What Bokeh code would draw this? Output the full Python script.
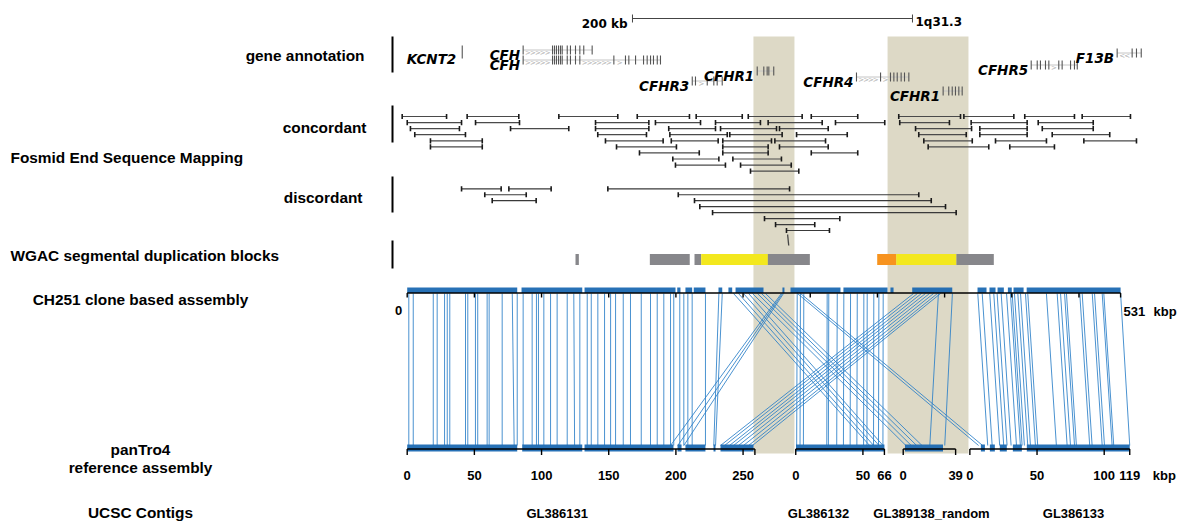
from bokeh.plotting import figure
from bokeh.models import Range1d
from bokeh.embed import file_html
from bokeh.resources import INLINE
from bokeh.core.properties import value

# ======================= DATA =======================
# --- human (hg) window, kb from the left edge of the displayed region ---
scale_bar_kb = [165.7, 365.7]
scale_bar_text = "200 kb"
cytoband_text = "1q31.3"

# duplicated regions highlighted (hg kb)
band_start = [252.1, 347.9]
band_end = [281.4, 405.7]

gene_names = ["KCNT2", "CFH", "CFH", "CFHR3", "CFHR1", "CFHR4", "CFHR1", "CFHR5", "F13B"]
gene_strand = ["-", "+", "+", "+", "+", "+", "+", "+", "-"]
gene_start = [44.1, 87.6, 87.6, 208.4, 254.8, 325.7, 387.6, 450.5, 511.9]
gene_end = [44.1, 136.9, 185.7, 229.8, 266.6, 363.1, 401.2, 483.4, 529.1]
gene_exons = [
    [44.1],
    [87.6, 108.6, 110.0, 111.4, 112.9, 114.3, 115.5, 119.1, 121.4, 125.0, 128.1, 130.9, 136.9],
    [87.6, 108.6, 110.0, 111.4, 112.9, 114.3, 115.5, 119.1, 121.4, 125.0, 128.1, 152.4, 160.7,
     163.1, 167.9, 173.6, 176.2, 178.6, 180.7, 183.4, 185.7],
    [208.4, 210.7, 219.1, 223.8, 226.2, 229.8],
    [254.8, 259.5, 261.9, 263.1, 266.6],
    [325.7, 342.9, 350.0, 352.4, 354.8, 357.6, 360.0, 363.1],
    [387.6, 391.6, 394.1, 396.4, 398.8, 401.2],
    [450.5, 454.8, 457.1, 460.7, 463.1, 470.2, 472.6, 478.6, 481.4, 483.4],
    [511.9, 522.6, 525.7, 529.1],
]

# fosmid end-sequence pairs (hg kb) and their stacking row
conc_start = [1.2, 47.6, 113.1, 169.1, 211.2, 248.4, 293.4, 355.9, 402.4, 445.9, 486.9,
              4.8, 53.6, 139.3, 182.1, 225.0, 262.6, 310.7, 356.6, 407.6, 455.5,
              7.1, 78.6, 139.3, 191.6, 228.6, 270.7, 367.9, 413.8, 458.4,
              10.2, 140.9, 192.4, 235.2, 282.9, 370.2, 413.8, 465.5,
              21.4, 146.4, 193.4, 230.2, 267.4, 373.8, 425.0, 488.1,
              21.4, 154.3, 230.2, 270.7, 376.9, 435.2,
              170.7, 230.2, 293.4,
              194.5, 237.4,
              196.4, 242.9,
              250.0]
conc_end = [32.9, 84.5, 155.2, 206.4, 244.1, 286.9, 326.6, 400.0, 438.1, 481.4, 521.4,
            43.6, 85.0, 177.4, 214.3, 257.1, 301.2, 345.9, 392.1, 447.6, 494.8,
            42.1, 120.2, 177.4, 225.0, 268.6, 305.5, 407.9, 447.6, 494.8,
            46.4, 175.7, 233.4, 272.6, 319.1, 404.1, 447.6, 506.6,
            58.4, 187.6, 226.9, 265.0, 303.6, 408.4, 461.4, 525.7,
            58.4, 197.1, 262.6, 305.5, 420.2, 467.1,
            213.4, 262.6, 326.6,
            227.4, 272.1,
            232.1, 279.1,
            284.5]
conc_row = [0] * 11 + [1] * 10 + [2] * 9 + [3] * 8 + [4] * 8 + [5] * 6 + [6] * 3 + [7] * 2 + [8] * 2 + [9]

disc_start = [43.6, 77.4, 148.1, 60.2, 198.4, 65.5, 210.0, 213.8, 222.9, 260.0, 267.9, 275.7]
disc_end = [71.9, 107.6, 277.9, 89.8, 370.2, 96.9, 379.1, 389.3, 396.9, 313.8, 295.9, 306.4]
disc_row = [0, 0, 0, 1, 1, 2, 2, 3, 4, 5, 6, 7]
disc_lone_end = [276.5]

# WGAC segmental duplications (hg kb) and identity class
wgac_start = [125.0, 178.1, 210.0, 214.8, 262.4, 340.5, 354.1, 397.1]
wgac_end = [127.4, 206.6, 214.8, 262.4, 292.4, 354.1, 397.1, 423.8]
wgac_class = ["90-98%", "90-98%", "90-98%", "98-99%", "90-98%", ">99%", "98-99%", "90-98%"]

# --- CH251 clone based assembly (kbp) vs panTro4 contigs (kbp) ---
ch251_length = 531
ch251_ticks = [0, 50, 100, 150, 200, 250, 300, 350, 400, 450, 500, 531]

contig_names = ["GL386131", "GL386132", "GL389138_random", "GL386133"]
contig_length = [258.8, 66, 39, 119]
contig_tick_labels = [[0, 50, 100, 150, 200, 250], [0, 50, 66], [0, 39], [0, 50, 100, 119]]

# aligned blocks on CH251
ch_block_start = [0, 85.1, 132.0, 201.0, 207.1, 213.3, 231.7, 239.1, 244.4, 279.3, 285.3, 324.7,
                  359.7, 375.9, 424.5, 433.4, 439.4, 447.1, 451.3, 461.1]
ch_block_end = [81.9, 130.3, 199.7, 203.4, 212.1, 222.0, 234.5, 241.9, 265.2, 280.8, 322.5, 357.5,
                362.0, 405.7, 431.2, 437.9, 444.1, 450.0, 458.8, 531.0]
# aligned blocks on panTro4 contigs
ref_block_contig = [0, 0, 0, 0, 0, 0, 0, 1, 2, 3, 3, 3, 3, 3]
ref_block_start = [0, 85.6, 132.0, 201.2, 207.1, 228.0, 233.2, 0.2, 1.3, 8.2, 14.9, 22.3, 32.0, 42.4]
ref_block_end = [81.9, 130.3, 198.2, 204.2, 222.0, 229.5, 257.8, 66.0, 29.6, 11.2, 18.6, 27.5, 38.7, 119.0]

# alignment links: CH251 position -> (contig, contig position)
aln_top = [1.2, 4.5, 19.4, 22.3, 27.8, 29.8, 31.7, 43.4, 45.1, 50.8, 52.5, 59.5, 61.0, 70.7, 78.2,
           81.9, 86.3, 93.0, 96.2, 97.7, 101.7, 106.7, 111.6, 119.1, 124.0, 128.5, 134.0, 137.0,
           141.9, 146.9, 151.4, 155.1, 160.8, 166.2, 174.2, 181.1, 186.1, 191.0, 196.0, 198.4,
           202.9, 205.9, 208.9, 212.1, 222.0, 232.0, 234.5,
           278.5, 279.3, 280.1,
           376.9, 379.8, 382.8, 385.8, 388.8, 391.8, 394.7, 397.0,
           242.9, 246.6, 250.3, 254.1,
           257.0, 260.7, 263.7, 266.7,
           290.3, 292.7, 295.2, 312.6, 313.8, 320.1, 325.0, 330.0, 335.0, 339.9, 342.4, 347.3, 351.1, 354.3,
           290.5, 292.8,
           395.4, 405.8,
           424.7, 428.0, 433.6, 436.6, 439.1, 442.1, 446.1, 449.0, 450.3, 452.0, 454.5, 456.5, 460.2,
           461.9, 475.8, 483.8, 486.3, 489.3, 490.7, 500.6, 502.4, 509.9, 511.6, 517.3, 518.5, 531.0]
aln_contig = [0] * 47 + [0] * 3 + [0] * 8 + [1] * 4 + [2] * 4 + [1] * 14 + [3] * 2 + [2] * 2 + [3] * 26
aln_ref = [1.2, 4.5, 19.4, 22.3, 27.8, 29.8, 31.7, 43.4, 45.1, 50.8, 52.5, 59.5, 61.0, 70.7, 79.6,
           81.9, 86.3, 93.0, 96.2, 97.7, 101.7, 106.7, 111.6, 119.1, 124.6, 128.5, 134.0, 137.0,
           141.9, 146.9, 151.4, 155.1, 160.8, 166.2, 174.2, 181.1, 186.1, 191.0, 196.0, 198.4,
           202.9, 205.9, 208.9, 212.1, 222.0, 228.2, 229.5,
           196.0, 201.4, 205.9,
           233.2, 236.2, 239.9, 242.9, 246.6, 250.3, 254.1, 257.0,
           55.0, 58.0, 62.0, 65.0,
           2.0, 6.0, 10.0, 14.0,
           0.7, 3.2, 5.7, 23.1, 24.3, 30.5, 35.5, 40.5, 45.5, 50.5, 53.0, 57.9, 61.6, 64.9,
           6.5, 9.5,
           19.8, 30.9,
           13.3, 16.6, 22.2, 25.2, 27.7, 30.7, 34.7, 37.6, 38.9, 40.6, 43.1, 45.1, 48.8,
           50.5, 64.4, 72.4, 74.9, 77.9, 79.3, 89.2, 91.0, 98.5, 100.2, 105.9, 107.1, 119.0]

track_labels = ["gene annotation", "concordant", "Fosmid End Sequence Mapping", "discordant",
                "WGAC segmental duplication blocks", "CH251 clone based assembly",
                "panTro4", "reference assembly", "UCSC Contigs"]

# ======================= LAYOUT / STYLE =======================
W, H = 1180, 522
K = 1.3435          # px per kbp (assembly tracks)
X0 = 406.7          # px of CH251 / GL386131 origin
HGK = 1.4           # px per kb (human tracks)
HG0 = 400.0         # px of human window origin
CONTIG_OFFSET = [0.0, 289.2, 369.2, 418.8]   # placement of contigs along the shared axis (kbp)
CONTIG_NAME_PX = [556.7, 818.0, 931.0, 1073.0]
GENE_BASE_Y = [58, 54, 64, 85, 75, 81, 95, 69, 57]

FONT = "Liberation Sans"
GFONT = "DejaVu Sans"
BLUE = "#2a7fc8"
BLOCK = "#1b69b2"
BAND = "#ddd9c6"
WGAC_COLORS = {"90-98%": "#87878b", "98-99%": "#f3e81e", ">99%": "#f7931e"}

p = figure(width=W, height=H,
           x_range=Range1d((0 - X0) / K, (W - X0) / K),
           y_range=Range1d(H, 0),
           output_backend="svg", toolbar_location=None, min_border=0,
           x_axis_location=None, y_axis_location=None, title=None)
p.grid.visible = False
p.outline_line_color = None
p.background_fill_color = "white"
p.border_fill_color = "white"
p.extra_x_ranges = {"hg": Range1d((0 - HG0) / HGK, (W - HG0) / HGK),
                    "px": Range1d(0, W)}


def txt(x, y, s, size, align="left", font=FONT, style="bold", rng="default", color="black", dx=0):
    p.text(x=[x], y=[y], text=[s], x_range_name=rng, x_offset=dx,
           text_font=value(font), text_font_size=size, text_font_style=style,
           text_align=align, text_baseline="alphabetic", text_color=color)


# highlighted duplicated regions
p.quad(left=band_start, right=band_end, top=36, bottom=453, x_range_name="hg",
       fill_color=BAND, line_color=None)

# scale bar
p.segment(x0=[scale_bar_kb[0]], y0=[18], x1=[scale_bar_kb[1]], y1=[18], x_range_name="hg",
          line_color="#444444", line_width=1)
p.segment(x0=scale_bar_kb, y0=[14, 14], x1=scale_bar_kb, y1=[22, 22], x_range_name="hg",
          line_color="#444444", line_width=1)
txt(scale_bar_kb[0], 23, scale_bar_text, "12px", align="right", font=GFONT, rng="hg", dx=-5)
txt(scale_bar_kb[1], 21, cytoband_text, "12px", align="left", font=GFONT, rng="hg", dx=3)

# track separators
p.segment(x0=[392] * 4, y0=[36, 105, 176, 240], x1=[392] * 4, y1=[72, 142, 212, 268],
          x_range_name="px", line_color="black", line_width=2)

# left labels
LS = "15.4px"
txt(364, 55, track_labels[0], LS, align="right", rng="px")
txt(366, 127, track_labels[1], LS, align="right", rng="px")
txt(10, 157, track_labels[2], LS, align="left", rng="px")
txt(362, 197, track_labels[3], LS, align="right", rng="px")
txt(10, 255, track_labels[4], LS, align="left", rng="px")
txt(140, 299, track_labels[5], LS, align="center", rng="px")
txt(140, 449, track_labels[6], LS, align="center", rng="px")
txt(140, 467, track_labels[7], LS, align="center", rng="px")
txt(140, 512, track_labels[8], LS, align="center", rng="px")

# genes
chx, chy, cht = [], [], []
for name, strand, s, e, ex, gy in zip(gene_names, gene_strand, gene_start, gene_end, gene_exons, GENE_BASE_Y):
    mid = gy - 4.5
    if e > s:
        p.segment(x0=[s], y0=[mid], x1=[e], y1=[mid], x_range_name="hg",
                  line_color="#c4c4c4", line_width=1)
        pos = sorted(set([s] + ex + [e]))
        for a, b in zip(pos[:-1], pos[1:]):
            n = int((b - a) / 3.3)
            for i in range(1, n):
                chx.append(a + i * (b - a) / n)
                chy.append(mid + 3)
                cht.append(">" if strand == "+" else "<")
    h0 = gy - 9 if e > s else gy - 13
    p.segment(x0=ex, y0=[h0] * len(ex), x1=ex, y1=[gy] * len(ex), x_range_name="hg",
              line_color="#555555", line_width=1.1)
    txt(s, gy, name, "13.5px", align="right", font=GFONT, style="bold italic", rng="hg",
        dx=-6 if e == s else -3)
p.text(x=chx, y=chy, text=cht, x_range_name="hg", text_font=value(GFONT), text_font_size="7px",
       text_color="#b0b0b0", text_align="center", text_baseline="alphabetic")

# fosmids
cy = [116 + 6.07 * r for r in conc_row]
p.segment(x0=conc_start, y0=cy, x1=conc_end, y1=cy, x_range_name="hg",
          line_color="#4a4a4a", line_width=1.2)
p.segment(x0=conc_start + conc_end, y0=[y - 2.6 for y in cy] * 2,
          x1=conc_start + conc_end, y1=[y + 2.6 for y in cy] * 2, x_range_name="hg",
          line_color="#1a1a1a", line_width=1.6)
dy = [188.3 + 5.96 * r for r in disc_row]
p.segment(x0=disc_start, y0=dy, x1=disc_end, y1=dy, x_range_name="hg",
          line_color="#3a3a3a", line_width=1.2)
p.segment(x0=disc_start + disc_end, y0=[y - 2.6 for y in dy] * 2,
          x1=disc_start + disc_end, y1=[y + 2.6 for y in dy] * 2, x_range_name="hg",
          line_color="#1a1a1a", line_width=1.6)
p.segment(x0=disc_lone_end, y0=[234], x1=[e + 0.8 for e in disc_lone_end], y1=[245],
          x_range_name="hg", line_color="#444444", line_width=1.3)

# WGAC
p.quad(left=wgac_start, right=wgac_end, top=253.5, bottom=264.5, x_range_name="hg",
       fill_color=[WGAC_COLORS[c] for c in wgac_class], line_color=None)

# alignment links
bx = [CONTIG_OFFSET[c] + r for c, r in zip(aln_contig, aln_ref)]
p.segment(x0=aln_top, y0=[293] * len(aln_top), x1=bx, y1=[445] * len(bx),
          line_color=BLUE, line_alpha=0.85, line_width=1)

# aligned blocks
p.quad(left=ch_block_start, right=ch_block_end, top=287, bottom=292.5,
       fill_color=BLOCK, fill_alpha=0.95, line_color=None)
rb_l = [CONTIG_OFFSET[c] + s for c, s in zip(ref_block_contig, ref_block_start)]
rb_r = [CONTIG_OFFSET[c] + e for c, e in zip(ref_block_contig, ref_block_end)]
p.quad(left=rb_l, right=rb_r, top=444, bottom=451, fill_color=BLOCK, fill_alpha=0.95,
       line_color=None)

# CH251 axis
p.segment(x0=[0], y0=[292.5], x1=[ch251_length], y1=[292.5], line_color="black", line_width=1.6)
p.segment(x0=ch251_ticks, y0=[292.5] * len(ch251_ticks), x1=ch251_ticks, y1=[297] * len(ch251_ticks),
          line_color="black", line_width=1.4)
txt(0, 310, "0", "13px", align="right", dx=-5)
txt(ch251_length, 311, str(ch251_length), "13px", align="left", dx=3)
txt(ch251_length, 311, "kbp", "13px", align="left", dx=33)

# contig axes
for i, (nm, ln, tl) in enumerate(zip(contig_names, contig_length, contig_tick_labels)):
    off = CONTIG_OFFSET[i]
    p.segment(x0=[off], y0=[448.5], x1=[off + ln], y1=[448.5], line_color="black", line_width=1.6)
    tk = sorted(set(tl + [ln]))
    p.segment(x0=[off + t for t in tk], y0=[448.5] * len(tk), x1=[off + t for t in tk],
              y1=[454.5] * len(tk), line_color="black", line_width=1.4)
    p.text(x=[off + t for t in tl], y=[475] * len(tl), text=[str(t) for t in tl],
           text_font=value(FONT), text_font_size="13px", text_font_style="bold",
           text_align="center", text_baseline="alphabetic")
    txt(CONTIG_NAME_PX[i], 513, nm, "13px", align="center", rng="px")
txt(CONTIG_OFFSET[3] + contig_length[3], 475, "kbp", "13px", align="left", dx=23)

open("out.html", "w").write(file_html(p, INLINE))
